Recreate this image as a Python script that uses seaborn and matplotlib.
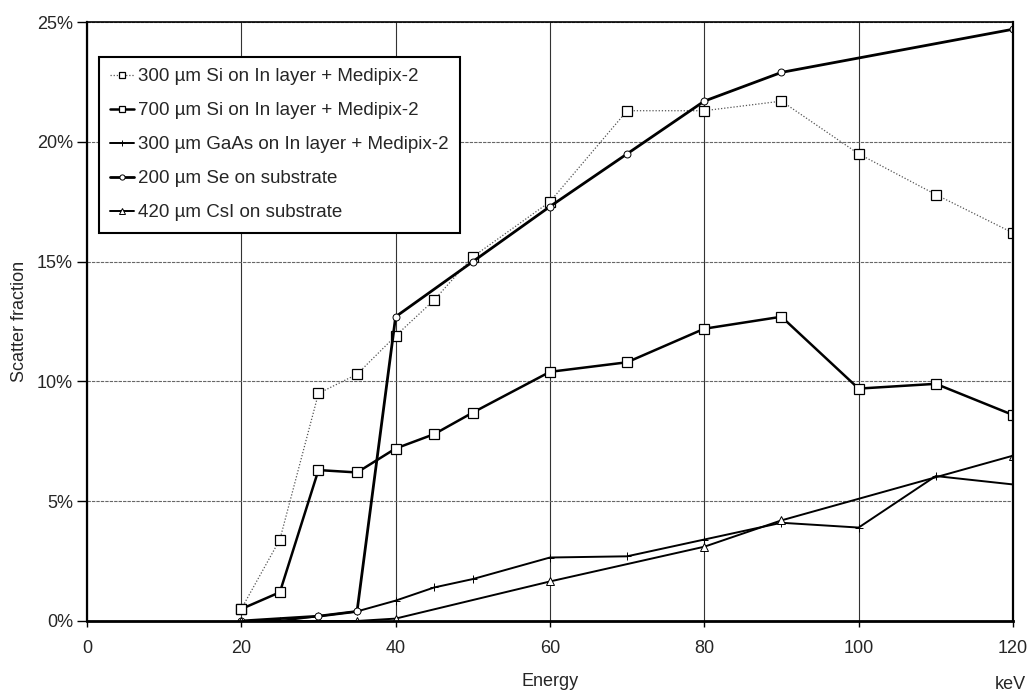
import matplotlib
matplotlib.use("Agg")
import matplotlib.pyplot as plt
import seaborn as sns
import pandas as pd
from matplotlib.ticker import PercentFormatter

# ---- data (scatter fraction in %) ----
si300_x = [20, 25, 30, 35, 40, 45, 50, 60, 70, 80, 90, 100, 110, 120]
si300_y = [0.5, 3.4, 9.5, 10.3, 11.9, 13.4, 15.2, 17.5, 21.3, 21.3, 21.7, 19.5, 17.8, 16.2]

si700_x = [20, 25, 30, 35, 40, 45, 50, 60, 70, 80, 90, 100, 110, 120]
si700_y = [0.5, 1.2, 6.3, 6.2, 7.2, 7.8, 8.7, 10.4, 10.8, 12.2, 12.7, 9.7, 9.9, 8.6]

gaas_x = [20, 25, 30, 35, 40, 45, 50, 60, 70, 80, 90, 100, 110, 120]
gaas_y = [0.0, 0.0, 0.2, 0.4, 0.85, 1.4, 1.75, 2.65, 2.7, 3.4, 4.1, 3.9, 6.05, 5.7]

se_x = [20, 30, 35, 40, 50, 60, 70, 80, 90, 120]
se_y = [0.0, 0.2, 0.4, 12.7, 15.0, 17.3, 19.5, 21.7, 22.9, 24.7]

csi_x = [20, 35, 40, 60, 80, 90, 120]
csi_y = [0.0, 0.0, 0.1, 1.65, 3.1, 4.2, 6.9]

labels = [
    "300 µm Si on In layer + Medipix-2",
    "700 µm Si on In layer + Medipix-2",
    "300 µm GaAs on In layer + Medipix-2",
    "200 µm Se on substrate",
    "420 µm CsI on substrate",
]
x_ticks = [0, 20, 40, 60, 80, 100, 120]
y_ticks = [0, 5, 10, 15, 20, 25]

sns.set_theme(style="white")
plt.rcParams["font.family"] = ["Liberation Sans", "DejaVu Sans"]

fig = plt.figure(figsize=(10.29, 6.94), dpi=100)
ax = fig.add_axes([0.0845, 0.1052, 0.8999, 0.863])

series = [
    (si300_x, si300_y, dict(color="#555555", lw=0.9, ls=(0, (1, 1.5)), marker="s", ms=6.5,
                            mfc="white", mec="black", mew=0.9)),
    (si700_x, si700_y, dict(color="black", lw=1.8, ls="-", marker="s", ms=6.5,
                            mfc="white", mec="black", mew=0.9)),
    (gaas_x, gaas_y, dict(color="black", lw=1.4, ls="-", marker="+", ms=6,
                          mec="black", mew=0.7)),
    (se_x, se_y, dict(color="black", lw=2.0, ls="-", marker="o", ms=5,
                      mfc="white", mec="black", mew=0.7)),
    (csi_x, csi_y, dict(color="black", lw=1.4, ls="-", marker="^", ms=5.5,
                        mfc="white", mec="black", mew=0.7)),
]

for (xs, ys, st), lab in zip(series, labels):
    df = pd.DataFrame({"Energy": xs, "Scatter": ys})
    sns.lineplot(data=df, x="Energy", y="Scatter", ax=ax, label=lab,
                 color=st["color"], linewidth=st["lw"], linestyle=st["ls"],
                 marker=st["marker"], markersize=st["ms"],
                 markerfacecolor=st.get("mfc", "none"), markeredgecolor=st["mec"],
                 markeredgewidth=st["mew"])

ax.set_xlim(0, 120)
ax.set_ylim(0, 25)
ax.set_xticks(x_ticks)
ax.set_yticks(y_ticks)
ax.yaxis.set_major_formatter(PercentFormatter(decimals=0))

ax.grid(axis="x", color="#333333", lw=0.8, ls="-")
ax.grid(axis="y", color="#666666", lw=0.8, ls=(0, (3, 1)))
ax.set_axisbelow(True)

for s in ax.spines.values():
    s.set_visible(True)
    s.set_color("black")
ax.spines["left"].set_linewidth(1.6)
ax.spines["bottom"].set_linewidth(2.0)
ax.spines["top"].set_linewidth(1.2)
ax.spines["right"].set_linewidth(1.6)

ax.tick_params(axis="both", which="major", labelsize=13, width=1,
               color="black", direction="out", left=True, bottom=True)
ax.tick_params(axis="x", length=4, pad=10)
ax.tick_params(axis="y", length=7, pad=3)
ax.set_xlabel("Energy", fontsize=13)
ax.set_ylabel("Scatter fraction", fontsize=13)
ax.xaxis.set_label_coords(0.5, -0.087)
ax.yaxis.set_label_coords(-0.064, 0.5)

ax.annotate("keV", xy=(120, 0), xycoords="data", xytext=(-3, -64),
            textcoords="offset pixels", ha="center", va="center", fontsize=13,
            annotation_clip=False)

leg = ax.legend(loc="upper left", bbox_to_anchor=(0.013, 0.9416), fontsize=13.5,
                frameon=True, fancybox=False, borderpad=0.6, labelspacing=0.9,
                handlelength=1.25, handletextpad=0.25, borderaxespad=0.0,
                markerscale=0.75)
leg.get_frame().set_edgecolor("black")
leg.get_frame().set_linewidth(1.5)
leg.get_frame().set_alpha(1)

fig.savefig("out.png", dpi=100)
